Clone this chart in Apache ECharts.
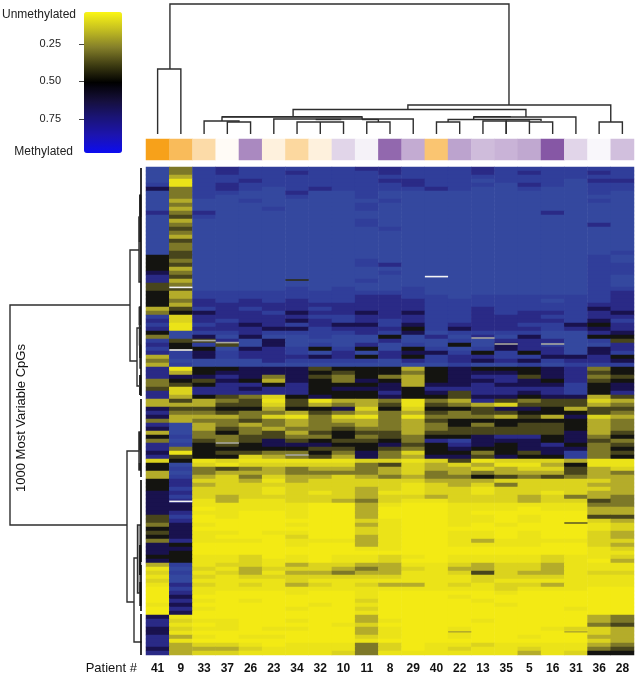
<!DOCTYPE html>
<html>
<head>
<meta charset="utf-8">
<style>html,body{margin:0;padding:0;background:#fff}#c{width:637px;height:677px}#c canvas{filter:blur(0.45px)}</style>
<script src="https://cdn.jsdelivr.net/npm/echarts@6/dist/echarts.min.js"></script>
</head>
<body>
<div id="c"></div>
<script>
const patients = ['41','9','33','37','26','23','34','32','10','11','8','29','40','22','13','35','5','16','31','36','28'];

// Signed group score of each patient for the annotation strip (-1 orange ... +1 purple)
const annotation = [-1,-0.72,-0.38,-0.04,0.7,-0.15,-0.42,-0.15,0.25,0.08,0.9,0.5,-0.62,0.55,0.4,0.45,0.52,1,0.25,0.05,0.38];

// Methylation level per CpG band, one character per patient: 0 = 0.0 ... 9 = 0.9, a = 1.0
const methylationRows = [
'a4 98999 99889 99899 9999','a4 98998 99989 99898 9989','a3 99999 99999 99999 9999','a1 99899 99988 99a99 9a88',
'91 98999 99998 999a8 9a99','74 989a9 89999 89aa9 aa99','a4 99aa8 aa9aa aaaaa aa9a','a4 9aaa9 aa9aa aaaaa aaaa',
'a3 aa9aa aaa9a aaaaa aa9a','a4 aaaaa aa9aa aaaaa aaaa','a3 aaa9a aa9aa aaaaa aaaa','84 8aaaa aaaaa aaaaa 8aaa',
'a5 9aaaa aaaaa aaaaa aaaa','a3 aaaaa aa9aa aaaaa aaaa','a4 aaaaa aa9aa aaaaa aa8a','a5 aaaaa aaa9a aaaaa aaaa',
'a4 aaaaa aaaaa aaaaa aaaa','a3 aaaaa aaaaa aaaaa aaaa','a5 aaaaa aaaaa aaaaa aaaa','a4 aaaaa aaaaa aaaaa aaaa',
'a4 aaaaa aaaaa aaaaa aaaa','a5 aaaaa aaaaa aaaaa aaa9','65 aaaaa aaaaa aaaaa aa9a','64 aaaaa aa9aa aaaaa aa9a',
'65 aaaaa aa98a aaaaa aa99','63 aaaaa aaaaa aaaaa aa99','74 aaaaa aaa9a aaaaa aa99','85 aaaaa aaaaa aaaaa aa9a',
'83 aaaaa aa9aa aaaaa aa9a','54 aaaaa aaaaa aaaaa aa9a','55 aaaa9 a9aa9 aaaaa aa99','63 99999 99999 aaaaa aa98',
'63 99999 99889 9a999 9998','64 89898 99888 99999 a998','63 88888 88888 99999 9988','35 98988 98888 99899 9978',
'46 78897 88787 99898 8987','92 88888 99888 99888 9988','82 89887 89898 99888 8979','91 98789 87797 98889 9768',
'81 88877 98886 97888 9878','6a 99899 99897 a9999 aa87','4a 7a7aa 9aa6a 8a8a7 aa66','95 58a7a aaa8a a9a88 8a95',
'86 95a7a 9a8a9 a6a78 9aa8','96 6a789 696a6 9a978 8a78','89 79889 a8a87 79696 8a79','39 79888 78686 98899 7786',
'4a aaa89 999a8 98787 9887','39 aaaaa aaaaa a9aa9 a999','81 66777 56663 67666 7846','83 67777 65664 67776 7856',
'87 78747 54643 67885 7845','46 57637 64763 67787 6856','45 68868 66673 77877 7967','52 88788 67776 88888 8967',
'82 88888 66686 75887 8968','83 65426 76676 65776 7735','35 34515 13341 43854 5523','33 35525 34351 54325 5534',
'75 56636 67262 66577 6355','84 45443 54343 54556 6654','73 33421 42141 44435 3723','43 44543 43343 56666 6634',
'8a 34343 44343 46465 5634','7a 35434 45443 45555 5634','3a 46453 56553 55555 5735','69 44554 46454 66788 6746',
'4a 54575 65564 89777 6754','89 65677 76675 68767 8645','84 66666 55654 67667 7746','71 65544 64742 66465 7945',
'85 66234 53743 77576 6946','26 12111 11221 25122 2311','6a 21222 22452 32311 3611','69 45434 33432 33232 2532',
'3a 43334 44432 43433 3534','39 32423 32343 44654 5433','68 22313 22222 33322 2223','68 32222 22221 23242 2233',
'69 22212 22321 22122 2223','78 22212 12311 22122 1233','79 23222 22322 32223 2434','78 13112 23421 12223 2254',
'77 11111 00310 01111 1144','77 01111 00300 01110 1133','78 11001 00300 01000 0033','59 01001 00300 01101 0055',
'58 00000 00210 01101 0023','47 10001 00310 01010 0012','67 00000 00210 00000 0012','57 11011 00210 01101 0023',
'67 10002 00310 01101 0023','48 11101 11310 01311 1122','76 00001 00310 01111 0023','77 00000 00110 00000 0012',
'76 00000 00000 00000 0011','66 11201 01121 01111 2112','76 11211 01120 01111 2103','39 12213 22331 12322 3111',
'1a 21322 23432 13322 3111','29 12313 34331 12523 3122','1a 21222 22221 11222 2111','2a 11112 11111 11211 1111',
'18 21213 21233 12122 3111','09 11111 11111 11121 1100','08 10001 00100 00010 0000','07 00000 00100 01000 0000',
'08 10100 00200 00100 0000','17 00000 10100 00010 0000','08 10001 00200 00000 0100','07 00000 00100 00000 0000',
'71 00000 00300 00000 0034','82 11001 00310 00100 0034','81 01000 01200 00000 0045','72 11011 00310 01000 1223',
'71 00000 00310 01000 0023','83 10110 00210 01001 0033','81 00000 00100 00000 0023','83 22101 11420 11211 1134',
'73 33211 11420 12112 1145','83 22111 12411 11113 1266'
];

// Thin one-CpG streaks: [patient index, band position]
const missingCells = [[12,27.4],[1,30.1],[1,45.75],[1,83.6]];
const faintCells = [[14,42.75],[15,44.25],[17,44.25],[2,43.4],[3,43.9],[6,72],[3,69]];
// [patient index, band position, methylation]
const darkCells = [[6,28.25,0.55],[13,116.2,0.3],[18,116.2,0.3],[18,89,0.45]];

// Sample dendrogram: [patient pos A, patient pos B, merge height, height below A, height below B]
const sampleTree = [
[1.03,15.62,130,65,29],[0.5,1.5,65,0,0],[11.27,20.0,29,24.5,12],[19.5,20.5,12,0,0],
[6.33,16.35,24.5,17,17],[3.27,9.3,17,13,14.5],[2.5,4.0,13,0,12],[3.5,4.5,12,0,0],
[5.5,11.5,15,0,0],[6.5,8.5,12,0,0],[7.5,7.5,12,0,0],[9.5,10.5,12,0,0],[10.0,10.0,15,12,12],
[7.3,8.4,14.5,14.5,14.5],[9.3,10.0,14.5,14.5,14.5],[3.27,9.3,17.4,17.4,17.4],
[14.1,18.5,17,14.5,0],[13.0,17.0,14.5,12,13],[12.5,13.5,12,0,0],
[14.5,15.5,13,0,0],[15.5,16.5,13,0,12],[16.5,17.5,12,0,0],[14.1,15.7,17.4,17.4,17.4]
];

// CpG dendrogram: [band pos A, band pos B, merge depth, depth at A, depth at B]
const cpgTree = [
[34.5,89.5,132,12,15],[20.75,48.5,12,3,5],[71,108.75,15,2.5,8],[40.25,54.75,5,1,1],
[97.75,118.75,8,4.5,0.5],[89.5,106.5,4.5,1,1],[12.5,28.75,3,1,1],[7,18.25,2,1,1],
[35,44.5,2.5,1,1],[44.5,50.25,2,1,1],[66.25,75.75,3,1,1]
];
// The leaf line with its small gaps: [band start, band end]
const cpgLeafLine = [[0.25,57.25],[58,77.5],[78.25,98.75],[99.5,111],[111.75,122]];
// Runs of tightly packed merges: [band start, band end, depth]
const cpgDense = [[12.5,18.75,2.2],[7,12.5,1.8],[35,39.5,2.2],[44.5,47.75,1.8],[66.25,70.75,2.2],[74,75.75,2.2],[103.75,109.75,1.6],[94.5,102,1.8],[52,57,1.8]];
const cpgGrey = [[18.75,28.75,2],[40.25,44.5,2],[70.75,74,2],[89.5,106.5,2.6]];

const scaleTicks = [0.25,0.5,0.75];

const heat = [];
methylationRows.forEach((s,r)=>{
  const row = s.replace(/ /g,'');
  patients.forEach((p,c)=>heat.push([c,r,parseInt(row[c],16)/10]));
});

const chart = echarts.init(document.getElementById('c'));
const FONT = '"Liberation Sans", Arial, sans-serif';

function tree(data, grid, colour, width, point, z){
  return {
    type:'custom', xAxisIndex:grid, yAxisIndex:grid, data, silent:true, clip:false, z:z||3,
    renderItem(params, api){
      const p1=api.value(0), p2=api.value(1), h=api.value(2), h1=api.value(3), h2=api.value(4);
      const pts=[[p1,h1],[p1,h],[p2,h],[p2,h2]].map(q=>api.coord(point(q[0],q[1])));
      return {type:'polyline',shape:{points:pts},style:{stroke:colour,lineWidth:width,fill:null}};
    }
  };
}
const streak = (data,colour)=>({
  type:'scatter', xAxisIndex:0, yAxisIndex:5, data, symbol:'rect', symbolSize:[23.2,1.6],
  silent:true, z:4, itemStyle:colour?{color:colour,opacity:1}:{opacity:1}
});
const vertical=(x,y)=>[x,y], horizontal=(x,y)=>[y,x];
const flat = d=>[d[0],d[1],d[2],d[2],d[2]];

chart.setOption({
  animation:false,
  backgroundColor:'#fff',
  textStyle:{fontFamily:FONT},
  grid:[
    {left:146,top:167,width:488,height:488},
    {left:146,top:139,width:488,height:21},
    {left:146,top:0,width:488,height:134},
    {left:0,top:167,width:142,height:488},
    {left:84,top:12,width:38,height:141}
  ],
  xAxis:[
    {gridIndex:0,type:'category',data:patients,axisLine:{show:false},axisTick:{show:false},splitLine:{show:false},
     axisLabel:{interval:0,margin:8,color:'#111',fontWeight:'bold',fontSize:12,fontFamily:FONT}},
    {gridIndex:1,type:'category',data:patients,show:false},
    {gridIndex:2,type:'value',min:0,max:21,show:false},
    {gridIndex:3,type:'value',min:0,max:142,inverse:true,show:false},
    {gridIndex:4,type:'value',min:0,max:1,show:false}
  ],
  yAxis:[
    {gridIndex:0,type:'category',inverse:true,data:methylationRows.map((s,i)=>i),show:false},
    {gridIndex:1,type:'category',data:['group'],show:false},
    {gridIndex:2,type:'value',min:0,max:134,show:false},
    {gridIndex:3,type:'value',min:0,max:122,inverse:true,show:false},
    {gridIndex:4,type:'value',min:0.037,max:0.977,inverse:true,position:'left',splitLine:{show:false},
     axisLine:{show:false,onZero:false},
     axisTick:{show:true,length:5,inside:false,customValues:scaleTicks,lineStyle:{color:'#444',width:1}},
     axisLabel:{customValues:scaleTicks,margin:23,fontSize:11,color:'#222',fontFamily:FONT,formatter:v=>v.toFixed(2)}},
    {gridIndex:0,type:'value',min:0,max:122,inverse:true,show:false}
  ],
  visualMap:[
    {type:'continuous',show:false,min:0,max:1,dimension:2,seriesIndex:[0,4],
     inRange:{color:['#f3ea14','#ebe318','#dbd31e','#b4ac2a','#7d7828','#48451c','#141410','#19124e','#2a2a86','#303e9a','#34489f']}},
    {type:'continuous',show:false,min:-1,max:1,dimension:2,seriesIndex:[1],
     inRange:{color:['#f7a11a','#ffffff','#8657a5']}},
    {type:'continuous',show:true,min:0,max:1,seriesIndex:[5],left:84,top:12,padding:0,itemWidth:38,itemHeight:141,
     text:null,calculable:false,hoverLink:false,showLabel:false,
     inRange:{color:['#0c0cf0','#1c14b0','#1a1478','#150f3a','#000000','#3f3d12','#85802a','#c4be20','#fbf614']}}
  ],
  series:[
    {type:'heatmap',xAxisIndex:0,yAxisIndex:0,data:heat,silent:true,emphasis:{disabled:true},itemStyle:{borderWidth:0},progressive:0},
    {type:'heatmap',xAxisIndex:1,yAxisIndex:1,data:annotation.map((v,i)=>[i,0,v]),silent:true,emphasis:{disabled:true}},
    streak(missingCells,'#f4f4f4'),
    streak(faintCells,'#a8a8a0'),
    streak(darkCells),
    {type:'scatter',xAxisIndex:4,yAxisIndex:4,data:[],silent:true},
    tree(sampleTree,2,'#2e2e2e',1.4,vertical),
    tree(cpgGrey.map(flat),3,'#8d8d8d',2.2,horizontal,2),
    tree(cpgDense.map(flat),3,'#111',2.2,horizontal,2),
    tree(cpgTree,3,'#2e2e2e',1.4,horizontal),
    tree(cpgLeafLine.map(d=>flat([d[0],d[1],1])),3,'#111',1.7,horizontal)
  ],
  graphic:[
    {type:'text',style:{text:'Unmethylated',x:76,y:15,align:'right',verticalAlign:'middle',fontSize:12,fontFamily:FONT,fill:'#222'}},
    {type:'text',style:{text:'Methylated',x:73,y:152,align:'right',verticalAlign:'middle',fontSize:12,fontFamily:FONT,fill:'#222'}},
    {type:'text',style:{text:'Patient #',x:137,y:668,align:'right',verticalAlign:'middle',fontSize:13,fontFamily:FONT,fill:'#111'}},
    {type:'text',rotation:Math.PI/2,x:21,y:418,style:{text:'1000 Most Variable CpGs',x:0,y:0,align:'center',verticalAlign:'middle',fontSize:13,fontFamily:FONT,fill:'#111'}}
  ]
});
</script>
</body>
</html>
